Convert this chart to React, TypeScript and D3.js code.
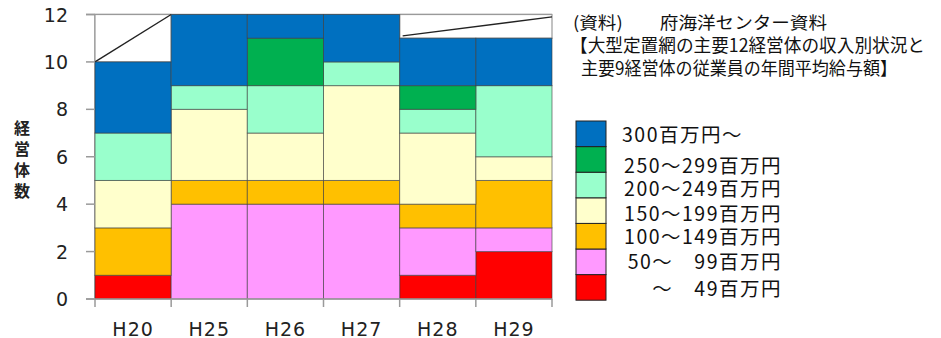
import React from "react";
import * as d3 from "d3";

// Fiscal years (Heisei) and number of operators per income bracket
const years = ["H20", "H25", "H26", "H27", "H28", "H29"];
const under49 = [1, 0, 0, 0, 1, 2];
const from50to99 = [0, 4, 4, 4, 2, 1];
const from100to149 = [2, 1, 1, 1, 1, 2];
const from150to199 = [2, 3, 2, 4, 3, 1];
const from200to249 = [2, 1, 2, 1, 1, 3];
const from250to299 = [0, 0, 2, 0, 1, 0];
const over300 = [3, 3, 1, 2, 2, 2];

const seriesKeys = ["u49", "r50", "r100", "r150", "r200", "r250", "o300"];
const seriesValues = [under49, from50to99, from100to149, from150to199, from200to249, from250to299, over300];
const seriesColors = ["#FF0000", "#FF99FF", "#FFC000", "#FFFFCC", "#99FFCC", "#00B050", "#0070C0"];
const legendLabels = ["～　49百万円", "　50～　99百万円", "100～149百万円", "150～199百万円", "200～249百万円", "250～299百万円", "300百万円～"];

const yTicks = [0, 2, 4, 6, 8, 10, 12];
const yTitle = ["経", "営", "体", "数"];
const noteLines = ["(資料)　　府海洋センター資料", "【大型定置網の主要12経営体の収入別状況と", "主要9経営体の従業員の年間平均給与額】"];

export default function App() {
  const W = 941;
  const H = 338;
  const x = d3.scaleBand<string>().domain(years).range([95, 552]).padding(0);
  const y = d3.scaleLinear().domain([0, 12]).range([299, 14.5]);

  const rows = years.map((yr, i) => {
    const r: Record<string, any> = { year: yr };
    seriesKeys.forEach((k, j) => (r[k] = seriesValues[j][i]));
    return r;
  });
  const stacked = d3.stack<any>().keys(seriesKeys)(rows);
  const totals = years.map((_, i) => seriesValues.reduce((s, arr) => s + arr[i], 0));

  const axisGray = "#9a9a9a";
  const tickFont = "'DejaVu Sans', Verdana, sans-serif";
  const jpFont = "'Noto Sans CJK JP', 'Noto Sans', sans-serif";

  // Blank areas above the totals, with a diagonal stroke
  const h20 = years[0];
  const h28 = years[4];
  const h29 = years[5];

  return (
    <svg width={W} height={H} style={{ position: "absolute", left: 0, top: 0, background: "#fff" }}>
      {/* plot frame */}
      <line x1={86} x2={x.range()[1]} y1={y(12)} y2={y(12)} stroke={axisGray} strokeWidth={1.5} />
      <line x1={x.range()[0]} x2={x.range()[0]} y1={y(12)} y2={y(0)} stroke={axisGray} strokeWidth={1.5} />

      {/* blank space for H20 */}
      <rect x={x(h20)} y={y(12)} width={x.bandwidth()} height={y(totals[0]) - y(12)} fill="#fff" stroke={axisGray} strokeWidth={1.2} />
      <line x1={x(h20)!} y1={y(totals[0])} x2={x(h20)! + x.bandwidth()} y2={y(12)} stroke="#222" strokeWidth={1.4} />

      {/* blank space for H28–H29 */}
      <rect x={x(h28)} y={y(12)} width={x.bandwidth() * 2} height={y(totals[4]) - y(12)} fill="#fff" stroke={axisGray} strokeWidth={1.2} />
      <line x1={x(h28)! + 3} y1={y(totals[4] + 0.1)} x2={x(h29)! + x.bandwidth()} y2={y(11.9)} stroke="#222" strokeWidth={1.4} />

      {/* stacked bars */}
      {stacked.map((layer, j) => (
        <g key={layer.key}>
          {layer.map((d, i) =>
            d[1] - d[0] > 0 ? (
              <rect
                key={i}
                x={x(years[i])}
                y={y(d[1])}
                width={x.bandwidth()}
                height={y(d[0]) - y(d[1])}
                fill={seriesColors[j]}
                stroke="#3a3a3a"
                strokeOpacity={0.6}
                strokeWidth={1}
              />
            ) : null
          )}
        </g>
      ))}

      {/* y axis */}
      <line x1={86} x2={x.range()[1]} y1={y(0)} y2={y(0)} stroke={axisGray} strokeWidth={1.5} />
      {yTicks.map((t) => (
        <g key={t}>
          <line x1={86} x2={95} y1={y(t)} y2={y(t)} stroke={axisGray} strokeWidth={1.5} />
          <text x={68} y={y(t)} textAnchor="end" dominantBaseline="central" fontFamily={tickFont} fontSize={19} fill="#222">
            {t}
          </text>
        </g>
      ))}

      {/* x axis */}
      {[...years.map((yr) => x(yr)!), x.range()[1]].map((px, i) => (
        <line key={i} x1={px} x2={px} y1={y(0)} y2={y(0) + 8} stroke={axisGray} strokeWidth={1.5} />
      ))}
      {years.map((yr) => (
        <text key={yr} x={x(yr)! + x.bandwidth() / 2} y={329} textAnchor="middle" dominantBaseline="central" fontFamily={tickFont} fontSize={19} letterSpacing={1} fill="#222">
          {yr}
        </text>
      ))}

      {/* y axis title */}
      {yTitle.map((c, i) => (
        <text key={c} x={22} y={127 + i * 21} textAnchor="middle" dominantBaseline="central" fontFamily={jpFont} fontSize={16} fontWeight="bold" fill="#222">
          {c}
        </text>
      ))}

      {/* source note */}
      <text x={573} y={21} dominantBaseline="central" fontFamily={jpFont} fontSize={17} fill="#111" textLength={254} lengthAdjust="spacingAndGlyphs">
        {noteLines[0]}
      </text>
      <text x={570} y={44} dominantBaseline="central" fontFamily={jpFont} fontSize={18} fill="#111" textLength={355} lengthAdjust="spacingAndGlyphs">
        {noteLines[1]}
      </text>
      <text x={581} y={67} dominantBaseline="central" fontFamily={jpFont} fontSize={18} fill="#111" textLength={316} lengthAdjust="spacingAndGlyphs">
        {noteLines[2]}
      </text>

      {/* legend */}
      {seriesKeys.map((k, j) => {
        const idx = seriesKeys.length - 1 - j; // top row is the highest bracket
        const top = 121 + idx * 25.6;
        return (
          <rect key={k} x={576} y={top} width={30} height={25.6} fill={seriesColors[j]} stroke="#222" strokeWidth={1} />
        );
      })}
      {legendLabels.map((lbl, j) => {
        const idx = seriesKeys.length - 1 - j;
        const ys = [287, 260, 235, 212, 187, 164, 133];
        const isTop = idx === 0;
        return (
          <text
            key={lbl}
            x={isTop ? 622 : 782}
            y={ys[j]}
            textAnchor={isTop ? "start" : "end"}
            dominantBaseline="central"
            fontFamily={jpFont}
            fontSize={19.5}
            letterSpacing={1.5}
            fill="#111"
          >
            {lbl}
          </text>
        );
      })}
    </svg>
  );
}
